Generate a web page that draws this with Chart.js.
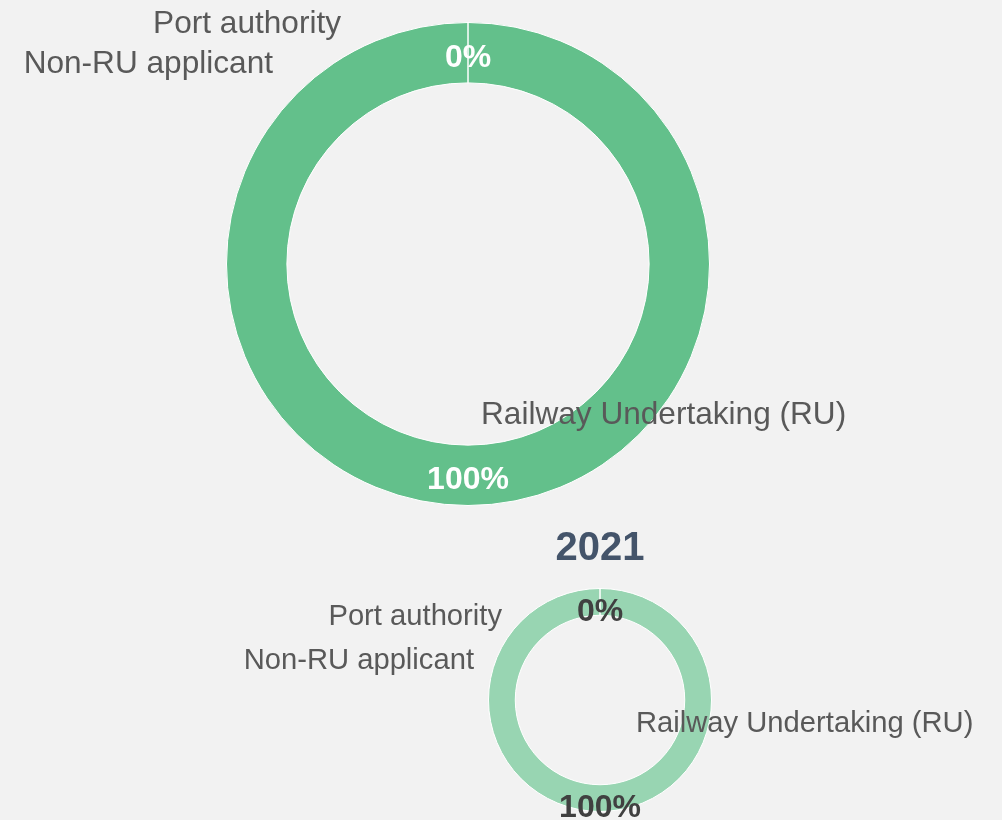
<!DOCTYPE html>
<html>
<head>
<meta charset="utf-8">
<script src="https://cdn.jsdelivr.net/npm/chart.js@4.4.1/dist/chart.umd.min.js"></script>
<style>
body{margin:0;background:#f2f2f2;width:1002px;height:820px;overflow:hidden;position:relative;font-family:"Liberation Sans",Arial,sans-serif;}
canvas{position:absolute;left:0;}
#topChart{top:0;}
#chart2021{top:510px;}
</style>
</head>
<body>
<canvas id="topChart" width="1002" height="510"></canvas>
<canvas id="chart2021" width="1002" height="310"></canvas>
<script>
const categories=["Railway Undertaking (RU)","Non-RU applicant","Port authority"];
const shareTop=[100,0,0];
const share2021=[100,0,0];

// draws the % inside the ring and the category names next to it
const ringLabels={
id:"ringLabels",
afterDatasetsDraw(chart,args,opts){
let ctx=chart.ctx;
let meta=chart.getDatasetMeta(0);
let data=chart.data.datasets[0].data;
let first=meta.data[0];
let cx=first.x, cy=first.y;
ctx.save();
ctx.textBaseline="middle";
let done={};
meta.data.forEach((arc,i)=>{
let p=arc.tooltipPosition();
let key=Math.round(p.x)+"_"+Math.round(p.y);
if(done[key]) return;
done[key]=true;
ctx.font="bold "+opts.valueSize+"px 'Liberation Sans', Arial, sans-serif";
ctx.fillStyle=opts.valueColor;
ctx.textAlign="center";
ctx.fillText(data[i]+"%",p.x,p.y+opts.valueShift);
});
ctx.font=opts.nameSize+"px 'Liberation Sans', Arial, sans-serif";
ctx.fillStyle="#595959";
chart.data.labels.forEach((name,i)=>{
let o=opts.names[i];
ctx.textAlign=o.align;
ctx.fillText(name,cx+o.dx,cy+o.dy);
});
ctx.restore();
}
};

new Chart(document.getElementById("topChart"),{
type:"doughnut",
data:{
labels:categories,
datasets:[{
data:shareTop,
backgroundColor:["#63c08b","#4f9fd6","#a5a5a5"],
borderColor:"#ffffff",
borderWidth:1
}]
},
options:{
responsive:false,
animation:false,
cutout:"75%",
layout:{padding:{left:226,top:22,right:292,bottom:4}},
plugins:{
legend:{display:false},
tooltip:{enabled:false},
ringLabels:{
valueSize:32,
valueColor:"#ffffff",
valueShift:5,
nameSize:31.6,
names:[
{dx:13,dy:151,align:"left"},
{dx:-195,dy:-200,align:"right"},
{dx:-127,dy:-240,align:"right"}
]
}
}
},
plugins:[ringLabels]
});

new Chart(document.getElementById("chart2021"),{
type:"doughnut",
data:{
labels:categories,
datasets:[{
data:share2021,
backgroundColor:["#98d5b2","#8dc3e8","#c9c9c9"],
borderColor:"#ffffff",
borderWidth:1
}]
},
options:{
responsive:false,
animation:false,
cutout:"76%",
layout:{padding:{left:488,top:15,right:290,bottom:8}},
plugins:{
legend:{display:false},
tooltip:{enabled:false},
title:{
display:true,
text:"2021",
color:"#44546a",
font:{size:40,weight:"bold",family:"'Liberation Sans', Arial, sans-serif",lineHeight:1.2},
padding:{top:0,bottom:15}
},
ringLabels:{
valueSize:32,
valueColor:"#404040",
valueShift:10,
nameSize:29.2,
names:[
{dx:36,dy:24,align:"left"},
{dx:-126,dy:-39,align:"right"},
{dx:-98,dy:-83,align:"right"}
]
}
}
},
plugins:[ringLabels]
});
</script>
</body>
</html>
